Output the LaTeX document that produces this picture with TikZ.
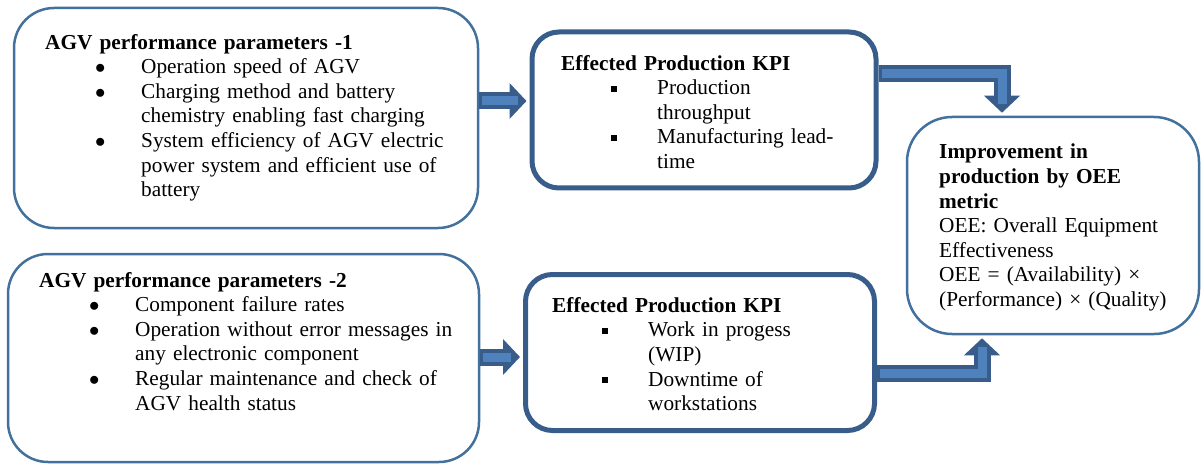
\documentclass[tikz,border=0pt]{standalone}
\usepackage{fontspec}
\setmainfont{Liberation Serif}
\usetikzlibrary{arrows.meta}

\definecolor{boxblue}{RGB}{65,113,156}
\definecolor{kpiblue}{RGB}{56,93,138}
\definecolor{arrdark}{RGB}{56,93,138}
\definecolor{arrlight}{RGB}{79,129,189}

\newcommand{\bitem}[1]{\par\hangindent=96pt\hangafter=1\noindent\hspace*{50pt}\makebox[46pt][l]{#1}}
\newcommand{\dotb}{$\bullet$}
\newcommand{\sqb}{\rule[3pt]{6pt}{6pt}}

\tikzset{
  parbox/.style={draw=boxblue, line width=2.5pt, rounded corners=40pt, inner sep=0pt},
  kpibox/.style={draw=kpiblue, line width=5pt, rounded corners=27pt, inner sep=0pt},
  oeebox/.style={draw=boxblue, line width=2.5pt, rounded corners=45pt, inner sep=0pt},
  txt/.style={anchor=north west, inner sep=0pt, text width=#1, align=left,
    font=\fontsize{21.3}{24.6}\selectfont},
  flow/.style={draw=arrdark, line width=17pt, line join=miter, shorten >=3pt,
    -{Triangle[length=17pt,width=35pt]},
    postaction={draw=arrlight, line width=9pt, -, shorten >=12pt, shorten <=3pt}}
}

\begin{document}
\begin{tikzpicture}[x=1pt,y=1pt]
    \useasboundingbox (0,0) rectangle (1201,464);

    % Define nodes
    \node[parbox, minimum width=464pt, minimum height=220pt] (par1) at (246,346) {};
    \node[parbox, minimum width=471pt, minimum height=208pt] (par2) at (243.5,106) {};
    \node[kpibox, minimum width=344pt, minimum height=156pt] (kpi1) at (704,354) {};
    \node[kpibox, minimum width=349pt, minimum height=156pt] (kpi2) at (700,111.5) {};
    \node[oeebox, minimum width=292pt, minimum height=217pt] (oee) at (1053,238.5) {};

    % Box texts
    \node[txt=420pt] (par1-t) at (45,430) {\textbf{AGV performance parameters -1}
      \bitem{\dotb}Operation speed of AGV
      \bitem{\dotb}Charging method and battery\newline chemistry enabling fast charging
      \bitem{\dotb}System efficiency of AGV electric\newline power system and efficient use of\newline battery\par};
    \node[txt=420pt] (par2-t) at (39,192) {\textbf{AGV performance parameters -2}
      \bitem{\dotb}Component failure rates
      \bitem{\dotb}Operation without error messages in\newline any electronic component
      \bitem{\dotb}Regular maintenance and check of\newline AGV health status\par};
    \node[txt=300pt] (kpi1-t) at (561,409) {\textbf{Effected Production KPI}
      \bitem{\sqb}Production\newline throughput
      \bitem{\sqb}Manufacturing lead-\newline time\par};
    \node[txt=300pt] (kpi2-t) at (552,167) {\textbf{Effected Production KPI}
      \bitem{\sqb}Work in progess\newline (WIP)
      \bitem{\sqb}Downtime of\newline workstations\par};
    \node[txt=250pt] (oee-t) at (939,320) {\textbf{Improvement in\newline production by OEE\newline metric}\newline
      OEE: Overall Equipment\newline Effectiveness\newline
      OEE = (Availability) ×\newline (Performance) × (Quality)};

    % Connect the nodes
    \coordinate (ac) at ([yshift=17pt]par1.east);
    \coordinate (bd) at ([yshift=1pt]par2.east);
    \coordinate (ce) at ([yshift=36.5pt]kpi1.east);
    \coordinate (de) at ([yshift=-21pt]kpi2.east);
    \draw[flow] (ac) -- (ac -| kpi1.west);
    \draw[flow] (bd) -- (bd -| kpi2.west);
    \draw[flow] (ce) -| ([xshift=-51pt]oee.north);
    \draw[flow] (de) -| ([xshift=-71pt]oee.south);
\end{tikzpicture}
\end{document}
